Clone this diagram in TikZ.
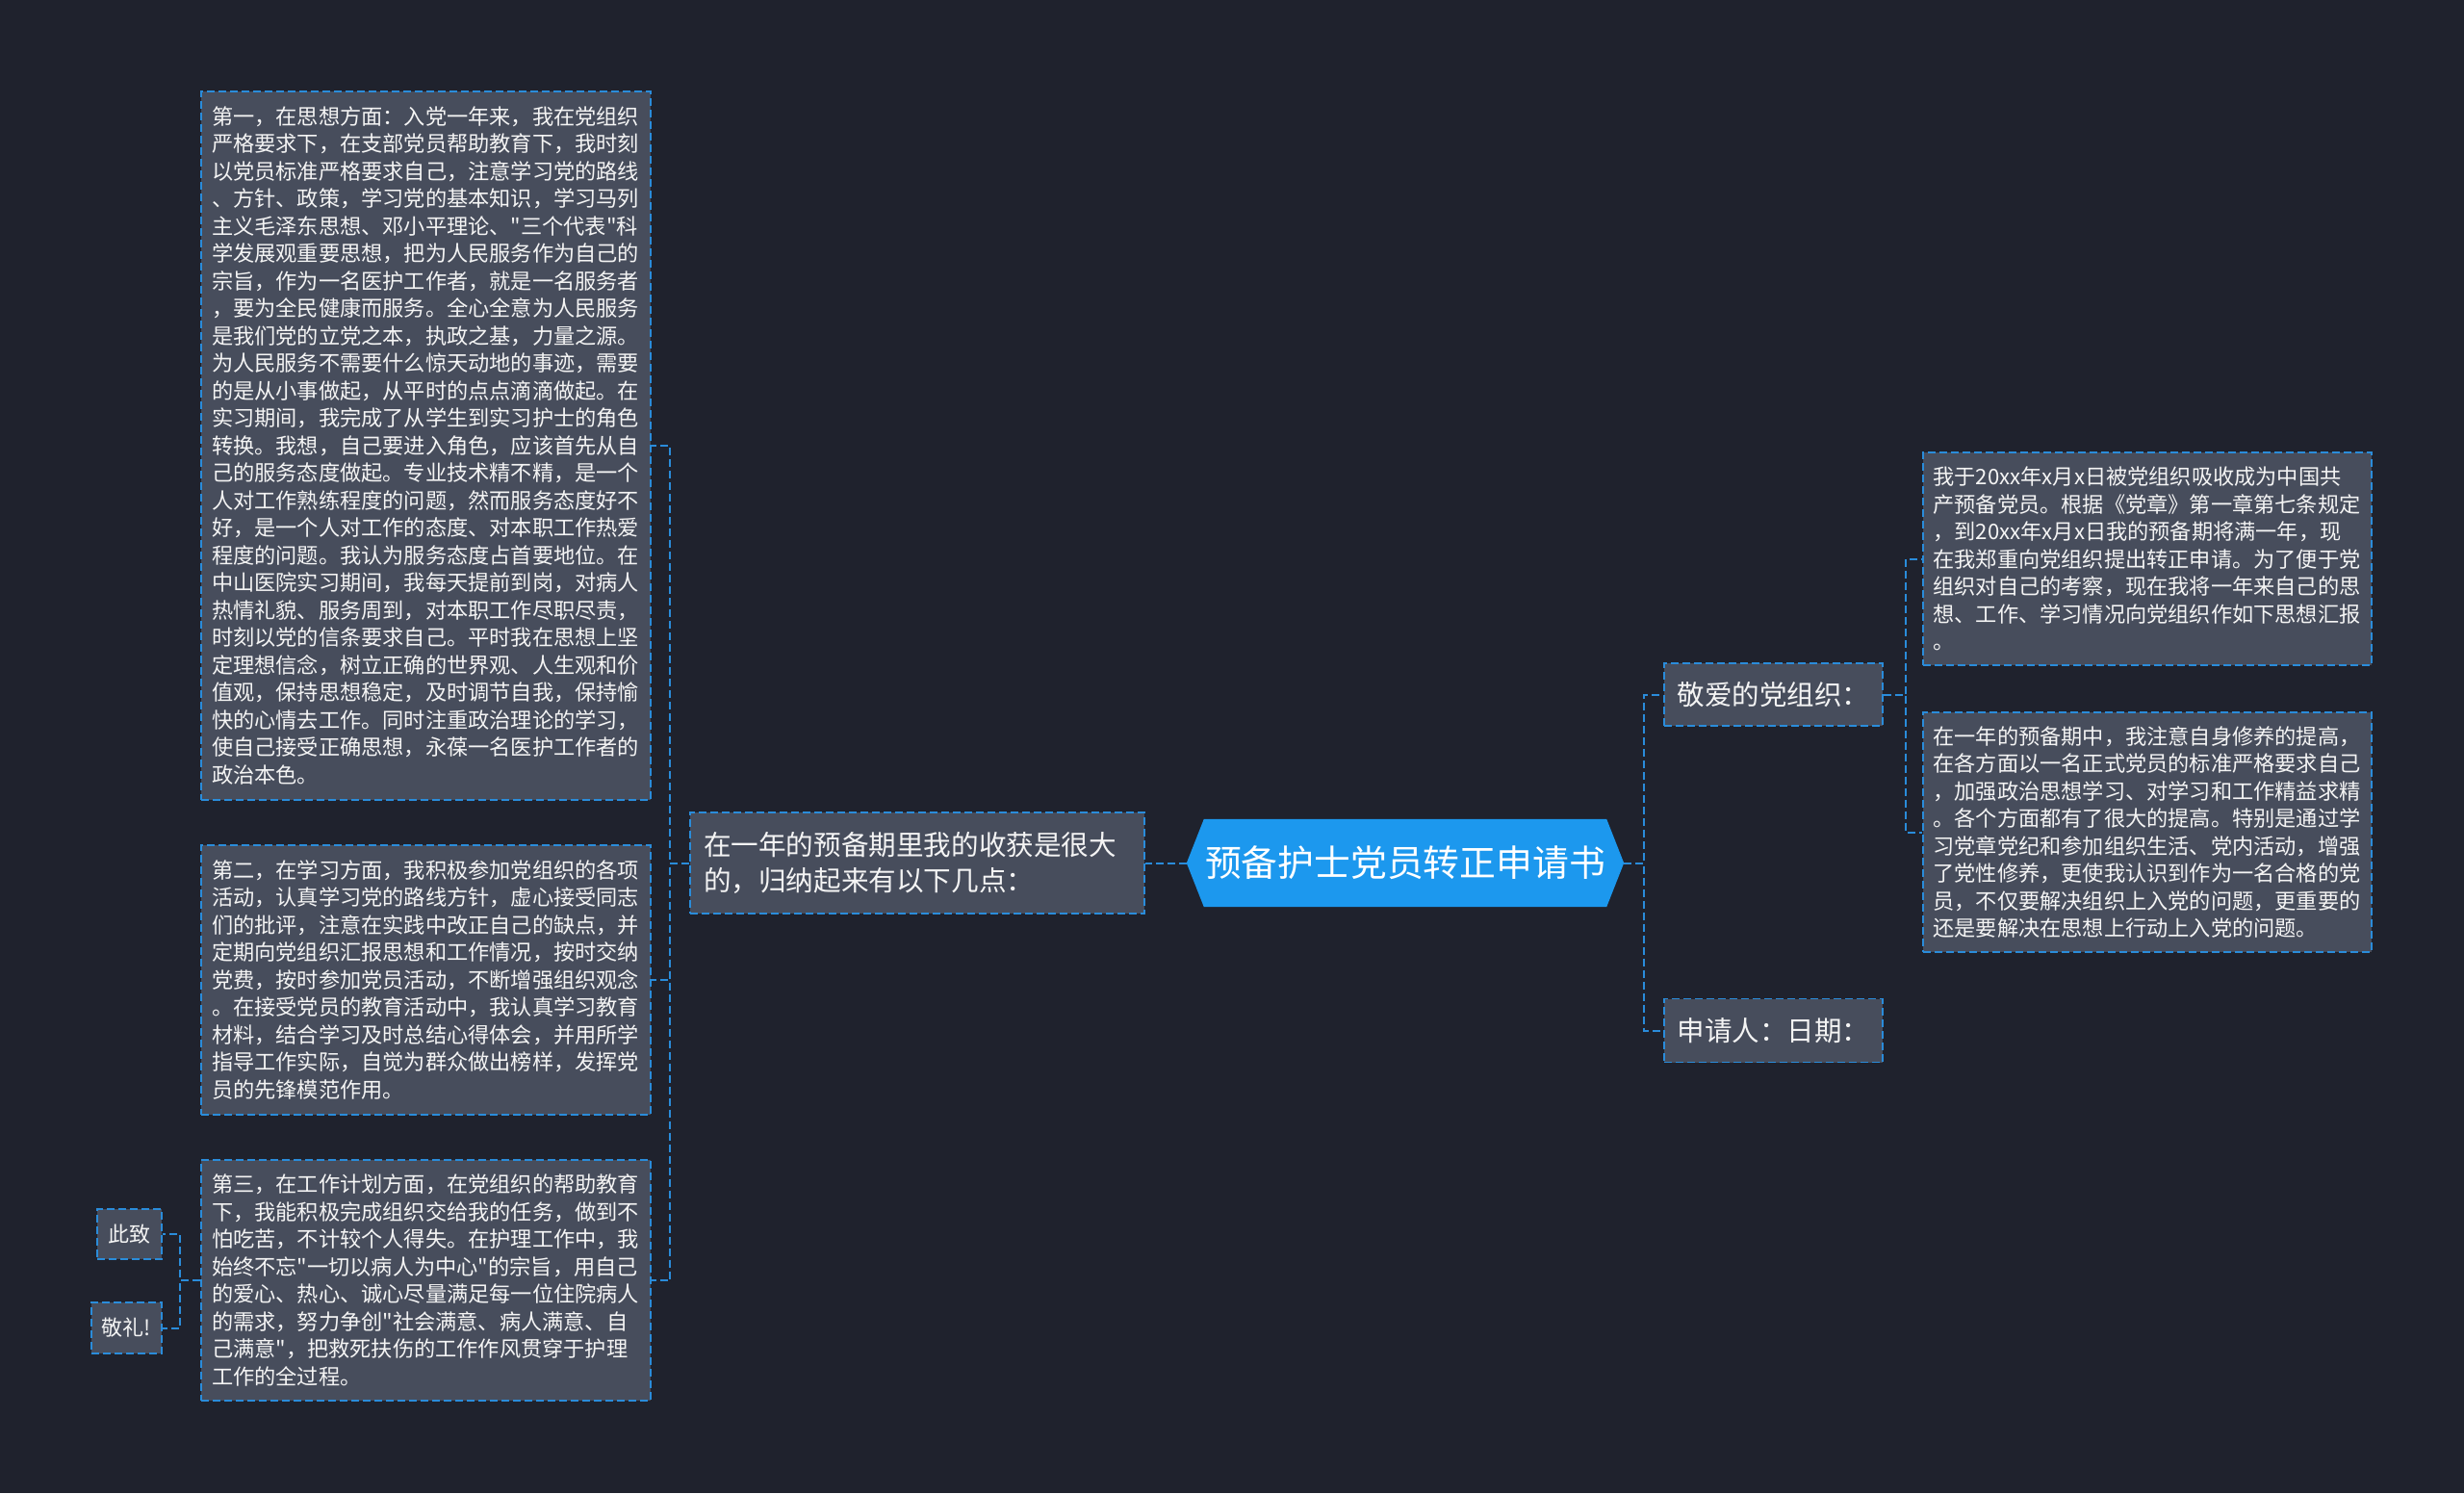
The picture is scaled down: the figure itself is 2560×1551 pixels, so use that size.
\documentclass[tikz,border=0pt]{standalone}
\usepackage{fontspec}
\setmainfont{Noto Sans CJK SC}[Ligatures=TeXOff]
\usetikzlibrary{calc}
\definecolor{bg}{HTML}{1F222D}
\definecolor{boxfill}{HTML}{474D5C}
\definecolor{edge}{HTML}{2A8CDA}
\definecolor{rootfill}{HTML}{1C98EE}
\definecolor{txt}{HTML}{F4F4F4}
\tikzset{
  boxbase/.style={rectangle, draw=edge, fill=boxfill, line width=1.8pt,
    dash pattern=on 8pt off 4pt, inner sep=0pt, text=txt, align=left},
  bigbox/.style={boxbase, minimum width=467pt, text width=445pt,
    font=\fontsize{22.2pt}{28.5pt}\selectfont},
  midbox/.style={boxbase, minimum width=472pt, minimum height=105pt, text width=444pt,
    font=\fontsize{28.6pt}{37.5pt}\selectfont},
  lvlbox/.style={boxbase, minimum width=227pt, font=\fontsize{28.5pt}{34pt}\selectfont},
  smallbox/.style={boxbase, font=\fontsize{22pt}{26pt}\selectfont},
  conn/.style={draw=edge, line width=2pt, dash pattern=on 8pt off 4pt},
  rootshape/.style={rectangle, minimum width=454pt, minimum height=91pt, inner sep=0pt},
  roottext/.style={text=white, inner sep=0pt, font=\fontsize{37.8pt}{44pt}\selectfont}
}
\begin{document}
\begin{tikzpicture}[x=1pt, y=-1pt]
\fill[bg] (0,0) rectangle (2560,1551);
\useasboundingbox (0,0) rectangle (2560,1551);

% root
\node[rootshape] (root) at (1460,896.5) {};
\fill[rootfill] (root.west) -- ([xshift=18]root.north west) -- ([xshift=-18]root.north east)
  -- (root.east) -- ([xshift=-18]root.south east) -- ([xshift=18]root.south west) -- cycle;
\node[roottext] (roottxt) at (root.center) {预备护士党员转正申请书};

% left middle
\node[midbox] (mid) at (953,896.5) {在一年的预备期里我的收获是很大\\的，归纳起来有以下几点：};

% left text boxes
\node[bigbox, minimum height=736pt] (c1) at (442.5,463) {第一，在思想方面：入党一年来，我在党组织\\
严格要求下，在支部党员帮助教育下，我时刻\\
以党员标准严格要求自己，注意学习党的路线\\
、方针、政策，学习党的基本知识，学习马列\\
主义毛泽东思想、邓小平理论、"三个代表"科\\
学发展观重要思想，把为人民服务作为自己的\\
宗旨，作为一名医护工作者，就是一名服务者\\
，要为全民健康而服务。全心全意为人民服务\\
是我们党的立党之本，执政之基，力量之源。\\
为人民服务不需要什么惊天动地的事迹，需要\\
的是从小事做起，从平时的点点滴滴做起。在\\
实习期间，我完成了从学生到实习护士的角色\\
转换。我想，自己要进入角色，应该首先从自\\
己的服务态度做起。专业技术精不精，是一个\\
人对工作熟练程度的问题，然而服务态度好不\\
好，是一个人对工作的态度、对本职工作热爱\\
程度的问题。我认为服务态度占首要地位。在\\
中山医院实习期间，我每天提前到岗，对病人\\
热情礼貌、服务周到，对本职工作尽职尽责，\\
时刻以党的信条要求自己。平时我在思想上坚\\
定理想信念，树立正确的世界观、人生观和价\\
值观，保持思想稳定，及时调节自我，保持愉\\
快的心情去工作。同时注重政治理论的学习，\\
使自己接受正确思想，永葆一名医护工作者的\\
政治本色。};

\node[bigbox, minimum height=280pt] (c2) at (442.5,1018) {第二，在学习方面，我积极参加党组织的各项\\
活动，认真学习党的路线方针，虚心接受同志\\
们的批评，注意在实践中改正自己的缺点，并\\
定期向党组织汇报思想和工作情况，按时交纳\\
党费，按时参加党员活动，不断增强组织观念\\
。在接受党员的教育活动中，我认真学习教育\\
材料，结合学习及时总结心得体会，并用所学\\
指导工作实际，自觉为群众做出榜样，发挥党\\
员的先锋模范作用。};

\node[bigbox, minimum height=250pt] (c3) at (442.5,1330) {第三，在工作计划方面，在党组织的帮助教育\\
下，我能积极完成组织交给我的任务，做到不\\
怕吃苦，不计较个人得失。在护理工作中，我\\
始终不忘"一切以病人为中心"的宗旨，用自己\\
的爱心、热心、诚心尽量满足每一位住院病人\\
的需求，努力争创"社会满意、病人满意、自\\
己满意"，把救死扶伤的工作作风贯穿于护理\\
工作的全过程。};

\node[smallbox, minimum width=67pt, minimum height=52pt] (cz) at (134.5,1282) {此致};
\node[smallbox, minimum width=73pt, minimum height=53pt] (jl) at (131.5,1379.5) {敬礼!};

% right side
\node[lvlbox, minimum height=65pt] (ja) at (1842.5,721.5) {敬爱的党组织：};
\node[lvlbox, minimum height=66pt] (sq) at (1842.5,1070.5) {申请人：日期：};

\node[bigbox, minimum width=466pt, minimum height=221pt] (r1) at (2231,580.5) {我于20xx年x月x日被党组织吸收成为中国共\\
产预备党员。根据《党章》第一章第七条规定\\
，到20xx年x月x日我的预备期将满一年，现\\
在我郑重向党组织提出转正申请。为了便于党\\
组织对自己的考察，现在我将一年来自己的思\\
想、工作、学习情况向党组织作如下思想汇报\\
。};

\node[bigbox, minimum width=466pt, minimum height=249pt] (r2) at (2231,864.5) {在一年的预备期中，我注意自身修养的提高，\\
在各方面以一名正式党员的标准严格要求自己\\
，加强政治思想学习、对学习和工作精益求精\\
。各个方面都有了很大的提高。特别是通过学\\
习党章党纪和参加组织生活、党内活动，增强\\
了党性修养，更使我认识到作为一名合格的党\\
员，不仅要解决组织上入党的问题，更重要的\\
还是要解决在思想上行动上入党的问题。};

% connectors
\draw[conn] (root.west) -- (mid.east);
\draw[conn] (mid.west) -- ++(-20,0) |- (c1.east);
\draw[conn] (mid.west) -- ++(-20,0) |- (c2.east);
\draw[conn] (mid.west) -- ++(-20,0) |- (c3.east);
\draw[conn] (c3.west) -- ++(-21,0) |- (cz.east);
\draw[conn] (c3.west) -- ++(-21,0) |- (jl.east);
\draw[conn] (root.east) -- ++(21,0) |- (ja.west);
\draw[conn] (root.east) -- ++(21,0) |- (sq.west);
\draw[conn] (ja.east) -- ++(23,0) |- (r1.west);
\draw[conn] (ja.east) -- ++(23,0) |- (r2.west);
\end{tikzpicture}
\end{document}
